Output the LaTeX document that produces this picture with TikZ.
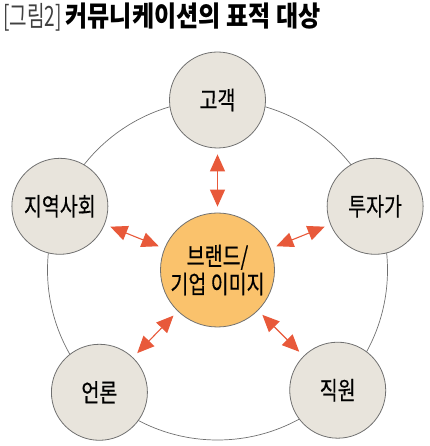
\documentclass[tikz,border=0pt]{standalone}
\usepackage{fontspec}
\newfontfamily\kr[FakeStretch=0.78,FakeBold=0.4]{Noto Sans CJK KR}
\newfontfamily\krhead[FakeStretch=0.86]{Noto Sans CJK KR}
\newfontfamily\krthin[FakeStretch=0.68]{Noto Sans CJK KR}
\usetikzlibrary{arrows.meta}
\definecolor{nodegray}{HTML}{E8E4DC}
\definecolor{edgegray}{HTML}{707070}
\definecolor{brandorange}{HTML}{FAC26C}
\definecolor{arrowred}{HTML}{E8593A}
\tikzset{
    x=1pt, y=1pt,
    target/.style={
        circle,
        draw=edgegray,
        fill=nodegray,
        line width=0.8pt,
        minimum size=96pt,
        inner sep=0pt,
        font=\kr\fontsize{25}{28}\selectfont
    },
    core/.style={
        target,
        fill=brandorange,
        minimum size=114pt,
        align=center
    },
    ring/.style={
        draw=edgegray,
        line width=0.7pt
    },
    every edge/.append style={
        draw=arrowred,
        <->,>={Triangle[length=17pt,width=15pt]},
        line width=1.1pt,
        shorten >=6pt,
        shorten <=6pt
    }
}

\begin{document}
\begin{tikzpicture}
    \useasboundingbox (0,0) rectangle (429,446);
    \coordinate (hub) at (217.5,176);
    \draw[ring] (hub) circle[radius=170];

    \node[anchor=base west, inner sep=0pt, font=\fontsize{28}{32}\selectfont] (title) at (3,419)
        {{\krthin\color{black!75}[그림2]}\kern4pt{\krhead\bfseries 커뮤니케이션의 표적 대상}};

    \node[core] (brand) at (hub) {브랜드/\\기업 이미지};
    \node[target] (gogaek) at ([shift={(90:170)}]hub) {고객};
    \node[target] (tuja) at ([shift={(22:170)}]hub) {투자가};
    \node[target] (jikwon) at ([shift={(-45:170)}]hub) {직원};
    \node[target] (eollon) at ([shift={(-134:170)}]hub) {언론};
    \node[target] (jiyeok) at ([shift={(158:170)}]hub) {지역사회};

    \draw (brand) edge (gogaek)
                  edge (tuja)
                  edge (jikwon)
                  edge (eollon)
                  edge (jiyeok);
\end{tikzpicture}
\end{document}
